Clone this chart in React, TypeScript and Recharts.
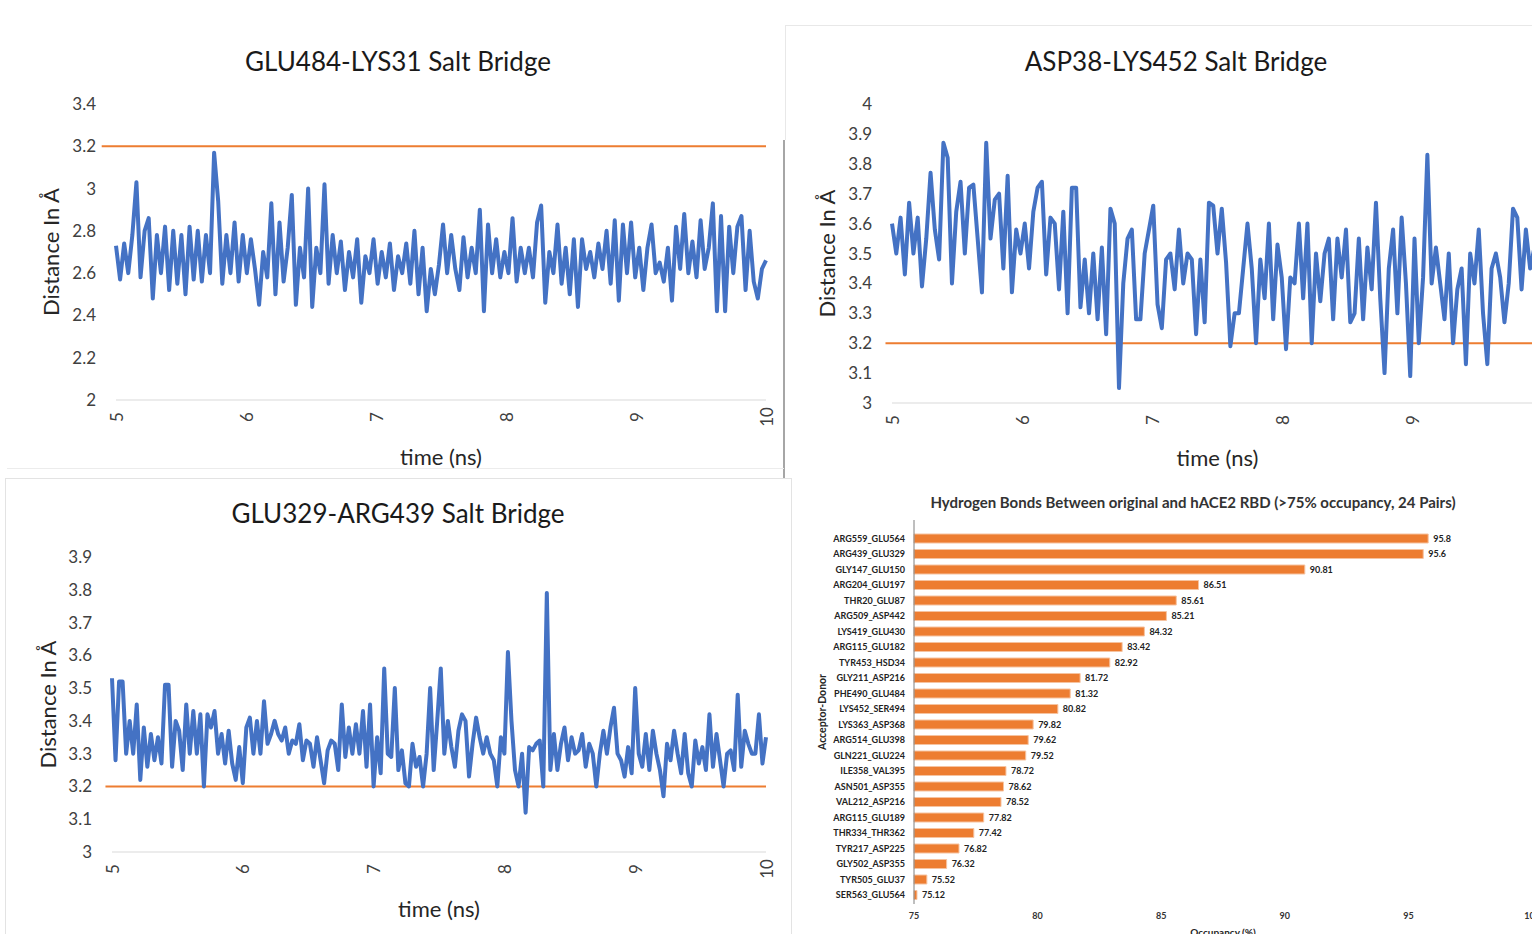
import React from 'react';
import {
  LineChart,
  Line,
  XAxis,
  YAxis,
  ReferenceLine,
  BarChart,
  Bar,
  LabelList,
} from 'recharts';

// distance traces (Å), evenly spaced from 5 to 10 ns
const glu484Lys31 = [
  2.73, 2.57, 2.74, 2.6, 2.78, 3.03, 2.58, 2.8, 2.86, 2.48,
  2.78, 2.6, 2.82, 2.52, 2.8, 2.55, 2.78, 2.5, 2.82, 2.57,
  2.8, 2.56, 2.78, 2.6, 3.17, 2.94, 2.55, 2.78, 2.6, 2.84,
  2.56, 2.78, 2.6, 2.76, 2.62, 2.45, 2.7, 2.58, 2.93, 2.5,
  2.84, 2.56, 2.72, 2.97, 2.45, 2.72, 2.58, 3.0, 2.44, 2.72,
  2.6, 3.02, 2.55, 2.78, 2.6, 2.75, 2.52, 2.7, 2.58, 2.76,
  2.46, 2.68, 2.6, 2.76, 2.55, 2.7, 2.58, 2.74, 2.52, 2.68,
  2.6, 2.74, 2.55, 2.8, 2.5, 2.72, 2.42, 2.62, 2.5, 2.64,
  2.83, 2.6, 2.78, 2.62, 2.52, 2.77, 2.58, 2.72, 2.6, 2.9,
  2.42, 2.83, 2.6, 2.76, 2.58, 2.7, 2.6, 2.86, 2.56, 2.72,
  2.6, 2.72, 2.58, 2.84, 2.92, 2.46, 2.7, 2.6, 2.83, 2.55,
  2.72, 2.5, 2.76, 2.44, 2.76, 2.62, 2.7, 2.58, 2.74, 2.62,
  2.8, 2.55, 2.85, 2.47, 2.83, 2.6, 2.84, 2.58, 2.72, 2.52,
  2.72, 2.83, 2.6, 2.65, 2.56, 2.72, 2.47, 2.82, 2.62, 2.88,
  2.6, 2.75, 2.58, 2.85, 2.62, 2.72, 2.93, 2.42, 2.87, 2.42,
  2.82, 2.6, 2.82, 2.87, 2.52, 2.8, 2.56, 2.48, 2.62, 2.66,
];

const asp38Lys452 = [
  3.6, 3.5, 3.62, 3.43, 3.67, 3.5, 3.62, 3.39, 3.55, 3.77,
  3.58, 3.48, 3.87, 3.82, 3.4, 3.64, 3.74, 3.5, 3.72, 3.73,
  3.55, 3.37, 3.87, 3.55, 3.68, 3.7, 3.45, 3.76, 3.37, 3.58,
  3.5, 3.6, 3.45, 3.64, 3.72, 3.74, 3.43, 3.62, 3.6, 3.38,
  3.64, 3.3, 3.72, 3.72, 3.32, 3.48, 3.3, 3.5, 3.28, 3.52,
  3.23, 3.65, 3.6, 3.05, 3.4, 3.55, 3.58, 3.28, 3.28, 3.5,
  3.58, 3.66, 3.33, 3.25, 3.48, 3.5, 3.38, 3.58, 3.4, 3.5,
  3.48, 3.23, 3.48, 3.27, 3.67,
  3.66, 3.5, 3.65, 3.47, 3.19, 3.3, 3.3, 3.45, 3.6, 3.45,
  3.2, 3.48, 3.35, 3.6, 3.28, 3.53, 3.42, 3.18, 3.42, 3.4,
  3.6, 3.35, 3.6, 3.2, 3.5, 3.34, 3.5, 3.55, 3.28, 3.55,
  3.42, 3.58, 3.27, 3.3, 3.55, 3.28, 3.52, 3.38, 3.67, 3.35,
  3.1, 3.45, 3.58, 3.3, 3.62, 3.4, 3.09, 3.55, 3.2, 3.42,
  3.83, 3.4, 3.52, 3.4, 3.28, 3.5, 3.2, 3.38, 3.45, 3.13,
  3.5, 3.4, 3.58, 3.3, 3.13, 3.45, 3.5, 3.42, 3.27, 3.4,
  3.65, 3.62, 3.38, 3.58, 3.45, 3.52, 3.5, 3.48,
];

const glu329Arg439 = [
  3.53, 3.28, 3.52, 3.52, 3.3, 3.4, 3.3, 3.45, 3.22, 3.38,
  3.26, 3.36, 3.28, 3.35, 3.27, 3.51, 3.51, 3.26, 3.4, 3.37,
  3.25, 3.45, 3.3, 3.43, 3.3, 3.42, 3.2, 3.42, 3.38, 3.43,
  3.3, 3.36, 3.27, 3.37, 3.27, 3.22, 3.32, 3.21, 3.38, 3.41,
  3.3, 3.4, 3.3, 3.46, 3.33, 3.36, 3.4, 3.36, 3.34, 3.38,
  3.3, 3.34, 3.33, 3.39, 3.28, 3.34, 3.33, 3.26, 3.35, 3.28,
  3.21, 3.31, 3.34, 3.33, 3.25, 3.45, 3.29, 3.38, 3.3, 3.39,
  3.3, 3.43, 3.26, 3.45, 3.2, 3.35, 3.24, 3.56, 3.3, 3.29,
  3.5, 3.25, 3.31, 3.21, 3.2, 3.33, 3.26, 3.29, 3.2, 3.3,
  3.5, 3.25, 3.4, 3.56, 3.3, 3.4, 3.32, 3.26,
  3.37, 3.42, 3.4, 3.23, 3.33, 3.41, 3.35, 3.3, 3.35, 3.3,
  3.28, 3.2, 3.35, 3.3, 3.61, 3.4, 3.25, 3.2, 3.3, 3.12,
  3.32, 3.31, 3.33, 3.34, 3.2, 3.79, 3.25, 3.36, 3.25, 3.33,
  3.38, 3.28, 3.35, 3.3, 3.31, 3.36, 3.26, 3.33, 3.3, 3.2,
  3.3, 3.37, 3.3, 3.38, 3.44, 3.3, 3.28, 3.23, 3.32, 3.24,
  3.5, 3.3, 3.26, 3.36, 3.25, 3.37, 3.3, 3.25, 3.17, 3.33,
  3.28, 3.37, 3.3, 3.24, 3.36, 3.24, 3.2, 3.34, 3.27, 3.32,
  3.25, 3.42, 3.26, 3.36, 3.28, 3.2, 3.3, 3.31, 3.25, 3.48,
  3.26, 3.37, 3.33, 3.3, 3.3, 3.42, 3.27, 3.35,
];

const cutoff = 3.2;
const timeTicks = [5, 6, 7, 8, 9, 10];
const timeTicksCut = [5, 6, 7, 8, 9];
const ticksTop = [2, 2.2, 2.4, 2.6, 2.8, 3, 3.2, 3.4];
const ticksRight = [3, 3.1, 3.2, 3.3, 3.4, 3.5, 3.6, 3.7, 3.8, 3.9, 4];
const ticksBottom = [3, 3.1, 3.2, 3.3, 3.4, 3.5, 3.6, 3.7, 3.8, 3.9];

// hydrogen bond pairs
const pairs = [
  'ARG559_GLU564', 'ARG439_GLU329', 'GLY147_GLU150', 'ARG204_GLU197',
  'THR20_GLU87', 'ARG509_ASP442', 'LYS419_GLU430', 'ARG115_GLU182',
  'TYR453_HSD34', 'GLY211_ASP216', 'PHE490_GLU484', 'LYS452_SER494',
  'LYS363_ASP368', 'ARG514_GLU398', 'GLN221_GLU224', 'ILE358_VAL395',
  'ASN501_ASP355', 'VAL212_ASP216', 'ARG115_GLU189', 'THR334_THR362',
  'TYR217_ASP225', 'GLY502_ASP355', 'TYR505_GLU37', 'SER563_GLU564',
];
const occupancy = [
  95.8, 95.6, 90.81, 86.51, 85.61, 85.21, 84.32, 83.42, 82.92, 81.72, 81.32, 80.82,
  79.82, 79.62, 79.52, 78.72, 78.62, 78.52, 77.82, 77.42, 76.82, 76.32, 75.52, 75.12,
];
const occTicks = [75, 80, 85, 90, 95, 100];

const FONT = 'Lato, "Open Sans", sans-serif';
const BLUE = '#4472c4';
const ORANGE = '#ed7d31';

const toSeries = (values: number[]) =>
  values.map((v, i) => ({ t: 5 + (5 * i) / (values.length - 1), v }));

const RotatedTick = (props: any) => {
  const { x, y, payload } = props;
  return (
    <g transform={`translate(${x},${y})`}>
      <text
        x={-17}
        y={0}
        transform="rotate(-90)"
        textAnchor="middle"
        dominantBaseline="central"
        fontSize={17}
        fill="#404040"
        fontFamily={FONT}
      >
        {payload.value}
      </text>
    </g>
  );
};

const yTitle = (cx: number, text: string, size: number, weight = 400) => (props: any) => {
  const vb = props.viewBox || { y: 0, height: 0 };
  const cy = vb.y + vb.height / 2;
  return (
    <text
      x={cx}
      y={cy}
      transform={`rotate(-90 ${cx} ${cy})`}
      textAnchor="middle"
      dominantBaseline="central"
      fontSize={size}
      fontWeight={weight}
      fill="#262626"
      fontFamily={FONT}
    >
      {text}
    </text>
  );
};

const xTitle = (dy: number, text: string, size: number, weight = 400) => (props: any) => {
  const vb = props.viewBox || { x: 0, y: 0, width: 0 };
  return (
    <text
      x={vb.x + vb.width / 2}
      y={vb.y + dy}
      textAnchor="middle"
      dominantBaseline="central"
      fontSize={size}
      fontWeight={weight}
      fill="#262626"
      fontFamily={FONT}
    >
      {text}
    </text>
  );
};

interface TraceProps {
  values: number[];
  left: number;
  top: number;
  width: number;
  height: number;
  marginTop: number;
  marginRight: number;
  yWidth: number;
  xHeight: number;
  domain: [number, number];
  ticks: number[];
  xTicks: number[];
  refStart: number;
  yTitleX: number;
  xTitleDy: number;
}

const TraceChart: React.FC<TraceProps> = (p) => (
  <div style={{ position: 'absolute', left: p.left, top: p.top }}>
    <LineChart
      width={p.width}
      height={p.height}
      data={toSeries(p.values)}
      margin={{ top: p.marginTop, right: p.marginRight, bottom: 20, left: 0 }}
    >
      <XAxis
        dataKey="t"
        type="number"
        domain={[5, 10]}
        ticks={p.xTicks}
        axisLine={{ stroke: '#d9d9d9' }}
        tickLine={false}
        tickSize={0}
        tickMargin={0}
        tick={<RotatedTick />}
        height={p.xHeight}
        label={{ content: xTitle(p.xTitleDy, 'time (ns)', 22) }}
      />
      <YAxis
        type="number"
        domain={p.domain}
        ticks={p.ticks}
        width={p.yWidth}
        axisLine={false}
        tickLine={false}
        tickSize={0}
        tickMargin={20}
        tick={{ fontSize: 17, fill: '#404040', fontFamily: FONT }}
        label={{ content: yTitle(p.yTitleX, 'Distance In Å', 22) }}
      />
      <ReferenceLine
        segment={[{ x: p.refStart, y: cutoff }, { x: 10, y: cutoff }]}
        stroke={ORANGE}
        strokeWidth={2}
        ifOverflow="visible"
      />
      <Line
        dataKey="v"
        type="linear"
        stroke={BLUE}
        strokeWidth={4}
        strokeLinejoin="round"
        dot={false}
        isAnimationActive={false}
      />
    </LineChart>
  </div>
);

const titleStyle: React.CSSProperties = {
  position: 'absolute',
  textAlign: 'center',
  fontFamily: FONT,
  fontSize: 26,
  lineHeight: '32px',
  color: '#1a1a1a',
  whiteSpace: 'nowrap',
};

const line = (s: React.CSSProperties): React.CSSProperties => ({ position: 'absolute', ...s });

export default function App() {
  const bondData = pairs.map((pair, i) => ({ pair, occ: occupancy[i] }));

  return (
    <div
      style={{
        position: 'absolute',
        left: 0,
        top: 0,
        width: 1532,
        height: 934,
        overflow: 'hidden',
        background: '#fff',
        fontFamily: FONT,
      }}
    >
      {/* panel frames */}
      <div style={line({ left: 785, top: 25, width: 747, height: 1, background: '#e8e8e8' })} />
      <div style={line({ left: 785, top: 25, width: 1, height: 115, background: '#e8e8e8' })} />
      <div style={line({ left: 783, top: 140, width: 2, height: 338, background: '#a6a6a6' })} />
      <div style={line({ left: 7, top: 468, width: 777, height: 1, background: '#ececec' })} />
      <div style={line({ left: 5, top: 478, width: 786, height: 1, background: '#e3e3e3' })} />
      <div style={line({ left: 5, top: 478, width: 1, height: 456, background: '#e3e3e3' })} />
      <div style={line({ left: 791, top: 478, width: 1, height: 456, background: '#e3e3e3' })} />

      <div style={{ ...titleStyle, left: 0, width: 796, top: 45 }}>GLU484-LYS31 Salt Bridge</div>
      <TraceChart
        values={glu484Lys31}
        left={0}
        top={80}
        width={782}
        height={400}
        marginTop={24}
        marginRight={16}
        yWidth={116}
        xHeight={60}
        domain={[2, 3.4]}
        ticks={ticksTop}
        xTicks={timeTicks}
        refStart={4.89}
        yTitleX={50}
        xTitleDy={56}
      />

      <div style={{ ...titleStyle, left: 785, width: 782, top: 45 }}>ASP38-LYS452 Salt Bridge</div>
      <TraceChart
        values={asp38Lys452}
        left={785}
        top={80}
        width={758}
        height={400}
        marginTop={24}
        marginRight={0}
        yWidth={107}
        xHeight={57}
        domain={[3, 4]}
        ticks={ticksRight}
        xTicks={timeTicksCut}
        refStart={4.95}
        yTitleX={41}
        xTitleDy={54}
      />

      <div style={{ ...titleStyle, left: 0, width: 796, top: 497 }}>GLU329-ARG439 Salt Bridge</div>
      <TraceChart
        values={glu329Arg439}
        left={0}
        top={530}
        width={782}
        height={404}
        marginTop={27}
        marginRight={16}
        yWidth={112}
        xHeight={62}
        domain={[3, 3.9]}
        ticks={ticksBottom}
        xTicks={timeTicks}
        refStart={4.95}
        yTitleX={47}
        xTitleDy={56}
      />

      <div
        style={{
          ...titleStyle,
          left: 854,
          width: 678,
          top: 493,
          fontSize: 15,
          lineHeight: '18px',
          fontWeight: 700,
          color: '#333',
        }}
      >
        Hydrogen Bonds Between original and hACE2 RBD (&gt;75% occupancy, 24 Pairs)
      </div>
      <div style={{ position: 'absolute', left: 790, top: 480 }}>
        <BarChart
          layout="vertical"
          width={760}
          height={470}
          data={bondData}
          margin={{ top: 40, right: 18, bottom: 6, left: 0 }}
        >
          <XAxis
            type="number"
            domain={[75, 100]}
            ticks={occTicks}
            axisLine={false}
            tickLine={false}
            tickSize={0}
            tickMargin={9}
            height={40}
            tick={{ fontSize: 9, fill: '#333', fontWeight: 700, fontFamily: FONT }}
            label={{ content: xTitle(28, 'Occupancy (%)', 10, 700) }}
          />
          <YAxis
            type="category"
            dataKey="pair"
            width={124}
            axisLine={{ stroke: '#7f7f7f' }}
            tickLine={false}
            tickSize={0}
            tickMargin={9}
            padding={{ top: 11, bottom: 1 }}
            interval={0}
            tick={{ fontSize: 9, fill: '#222', fontWeight: 700, fontFamily: FONT }}
            label={{ content: yTitle(32, 'Acceptor-Donor', 10.5, 700) }}
          />
          <Bar
            dataKey="occ"
            fill={ORANGE}
            stroke="#f6c3a0"
            strokeWidth={1}
            barSize={9}
            isAnimationActive={false}
          >
            <LabelList
              dataKey="occ"
              position="right"
              offset={5}
              style={{ fontSize: 9, fontWeight: 700, fill: '#222', fontFamily: FONT }}
            />
          </Bar>
        </BarChart>
      </div>
    </div>
  );
}
